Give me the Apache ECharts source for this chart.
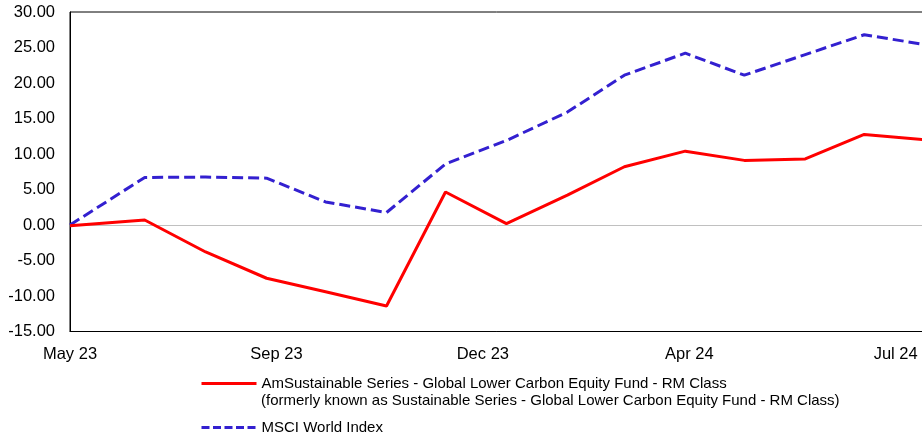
<!DOCTYPE html>
<html>
<head>
<meta charset="utf-8">
<script src="https://cdn.jsdelivr.net/npm/echarts@6/dist/echarts.min.js"></script>
<style>
  html, body { margin: 0; padding: 0; background: #fff; }
  #chart { width: 922px; height: 437px; }
</style>
</head>
<body>
<div id="chart"></div>
<script>
// Observation dates (launch date, then month-ends)
const dates = [
  '2023-05-23', '2023-06-30', '2023-07-31', '2023-08-31', '2023-09-30',
  '2023-10-31', '2023-11-30', '2023-12-31', '2024-01-31', '2024-02-29',
  '2024-03-31', '2024-04-30', '2024-05-31', '2024-06-30', '2024-07-31'
];
// Cumulative performance, %
const fundValues = [-0.1, 0.7, -3.8, -7.5, -9.4, -11.4, 4.65, 0.2, 4.2, 8.2, 10.4, 9.1, 9.3, 12.75, 12.0];
const indexValues = [0.0, 6.7, 6.75, 6.6, 3.25, 1.75, 8.6, 11.9, 15.9, 21.1, 24.2, 21.1, 24.0, 26.8, 25.4];
// Date-axis labels, one every 105 days from the first date
const tickLabels = ['May 23', 'Sep 23', 'Dec 23', 'Apr 24', 'Jul 24'];
const tickStepDays = 105;

const fundName = 'AmSustainable Series - Global Lower Carbon Equity Fund - RM Class';
const fundNote = '(formerly known as Sustainable Series - Global Lower Carbon Equity Fund - RM Class)';
const indexName = 'MSCI World Index';

const FONT = '"Liberation Sans", Arial, Helvetica, sans-serif';
const DAY = 86400000;
const t0 = Date.parse(dates[0]);
const dayOffsets = dates.map(d => Math.round((Date.parse(d) - t0) / DAY));
const pairs = vals => vals.map((v, i) => [dayOffsets[i], v]);

const legendBase = {
  orient: 'vertical',
  left: 200,
  padding: 0,
  itemWidth: 55, itemHeight: 16,
  textStyle: { color: '#000', fontSize: 15, lineHeight: 16, fontFamily: FONT }
};

const chart = echarts.init(document.getElementById('chart'), null, { renderer: 'canvas' });
chart.setOption({
  animation: false,
  backgroundColor: '#fff',
  textStyle: { fontFamily: FONT },
  grid: {
    left: 70, top: 12, bottom: 105.5, right: -13,
    outerBoundsMode: 'none',
    containLabel: false,
    show: true, borderColor: '#000', borderWidth: 1, backgroundColor: 'transparent'
  },
  xAxis: {
    type: 'value',
    min: 0, max: 440, interval: tickStepDays,
    axisLine: { show: true, onZero: false, lineStyle: { color: '#000', width: 1 } },
    axisTick: { show: false },
    splitLine: { show: false },
    axisLabel: {
      color: '#000', fontSize: 16.5, fontFamily: FONT, margin: 14,
      formatter: v => {
        const k = v / tickStepDays;
        return Number.isInteger(k) && tickLabels[k] ? tickLabels[k] : '';
      }
    }
  },
  yAxis: {
    type: 'value',
    min: -15, max: 30, interval: 5,
    axisLine: { show: true, lineStyle: { color: '#000', width: 1 } },
    axisTick: { show: false },
    splitLine: { show: false },
    axisLabel: {
      color: '#000', fontSize: 16.5, fontFamily: FONT, margin: 15,
      formatter: v => v.toFixed(2)
    }
  },
  legend: [
    Object.assign({}, legendBase, {
      top: 375.5,
      data: [{ name: fundName, itemStyle: { opacity: 0 }, lineStyle: { width: 3 } }]
    }),
    Object.assign({}, legendBase, {
      top: 419.5,
      data: [{ name: indexName, itemStyle: { opacity: 0 }, lineStyle: { width: 3, type: [8, 3.5] } }]
    })
  ],
  graphic: [{
    type: 'text',
    left: 261, top: 393,
    style: { text: fundNote, fill: '#000', font: '15px ' + FONT }
  }],
  series: [
    {
      name: indexName,
      type: 'line',
      data: pairs(indexValues),
      symbol: 'none',
      z: 3,
      lineStyle: { color: '#3320D0', width: 3, type: [11, 5] },
      itemStyle: { color: '#3320D0' },
      markLine: {
        silent: true, symbol: 'none', z: 1,
        label: { show: false },
        lineStyle: { color: '#c0c0c0', width: 1, type: 'solid' },
        data: [{ yAxis: 0 }]
      }
    },
    {
      name: fundName,
      type: 'line',
      data: pairs(fundValues),
      symbol: 'none',
      z: 4,
      lineStyle: { color: '#FF0000', width: 3 },
      itemStyle: { color: '#FF0000' }
    }
  ]
});
</script>
</body>
</html>
